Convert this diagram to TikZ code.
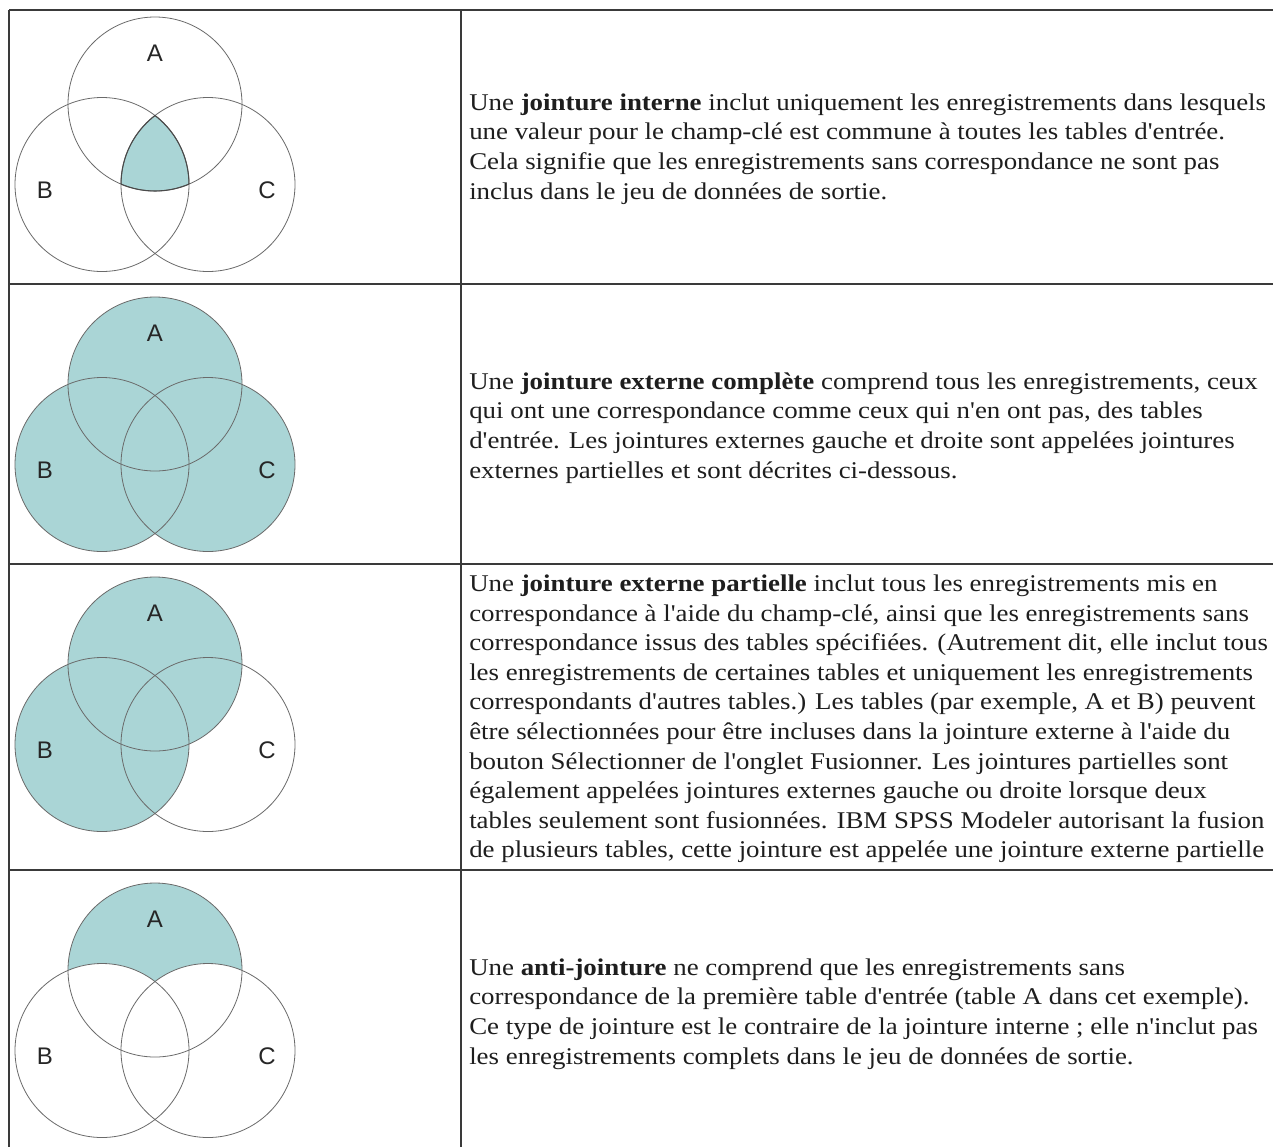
\documentclass[tikz,border=0pt]{standalone}
\usepackage{fontspec}
\usetikzlibrary{calc}
\setmainfont{Liberation Serif}[FakeStretch=1.12,Ligatures=TeXOff]
\newfontfamily\labelfont{Liberation Sans}
\definecolor{vennfill}{HTML}{AAD5D6}
\definecolor{rulecol}{HTML}{3A3A3A}
\definecolor{ringcol}{HTML}{6A6A6A}
\definecolor{edgecol}{HTML}{4A4A4A}
\definecolor{txtcol}{HTML}{1E1E1E}
\begin{document}
\begin{tikzpicture}[x=0.75pt,y=-0.75pt,
  tablerule/.style={draw=rulecol,line width=1.1pt},
  ring/.style={draw=ringcol,line width=0.6pt},
  edge/.style={draw=edgecol,line width=0.8pt},
  lab/.style={font=\labelfont\fontsize{18pt}{20pt}\selectfont,text=black!85,inner sep=0pt},
  para/.style={anchor=west,align=left,inner sep=0pt,text=txtcol,font=\fontsize{18pt}{22.2pt}\selectfont}]
\def\R{65.25pt}
\useasboundingbox (0,0) rectangle (1273,1146);
\clip (0,0) rectangle (1273,1146);
\fill[white] (0,0) rectangle (1273,1146);
% circle centres
\foreach \i/\y in {1/104,2/384,3/664,4/970}{
  \coordinate (A\i) at (155,\y);
  \coordinate (B\i) at (102,\y+80.5);
  \coordinate (C\i) at (208,\y+80.5);
}
% shading
\begin{scope}
  \clip (A1) circle[radius=\R];
  \clip (B1) circle[radius=\R];
  \fill[vennfill] (C1) circle[radius=\R];
\end{scope}
\fill[vennfill] (A2) circle[radius=\R] (B2) circle[radius=\R] (C2) circle[radius=\R];
\fill[vennfill] (A3) circle[radius=\R] (B3) circle[radius=\R];
\fill[vennfill] (A4) circle[radius=\R];
\fill[white] (B4) circle[radius=\R] (C4) circle[radius=\R];
% circles and labels
\foreach \i in {1,2,3,4}{
  \draw[ring] (A\i) circle[radius=\R];
  \draw[ring] (B\i) circle[radius=\R];
  \draw[ring] (C\i) circle[radius=\R];
  \node[lab] (la\i) at ($(A\i)+(0,-51)$) {A};
  \node[lab] (lb\i) at ($(B\i)+(-57,6)$) {B};
  \node[lab] (lc\i) at ($(C\i)+(59,6)$) {C};
}
% darker edge of the inner join region
\begin{scope}
  \clip (A1) circle[radius=\R];
  \clip (B1) circle[radius=\R];
  \draw[edge] (C1) circle[radius=\R];
\end{scope}
\begin{scope}
  \clip (A1) circle[radius=\R];
  \clip (C1) circle[radius=\R];
  \draw[edge] (B1) circle[radius=\R];
\end{scope}
\begin{scope}
  \clip (B1) circle[radius=\R];
  \clip (C1) circle[radius=\R];
  \draw[edge] (A1) circle[radius=\R];
\end{scope}
% table rules
\draw[tablerule] (9,10) -- (1280,10);
\draw[tablerule] (9,284) -- (1280,284);
\draw[tablerule] (9,564) -- (1280,564);
\draw[tablerule] (9,870) -- (1280,870);
\draw[tablerule] (9,10) -- (9,1160);
\draw[tablerule] (461,10) -- (461,1160);
% texts
\node[para] (t1) at (469,149) {Une \textbf{jointure interne} inclut uniquement les enregistrements dans lesquels\\
une valeur pour le champ-clé est commune à toutes les tables d'entrée.\\
Cela signifie que les enregistrements sans correspondance ne sont pas\\
inclus dans le jeu de données de sortie.};
\node[para] (t2) at (469,428) {Une \textbf{jointure externe complète} comprend tous les enregistrements, ceux\\
qui ont une correspondance comme ceux qui n'en ont pas, des tables\\
d'entrée. Les jointures externes gauche et droite sont appelées jointures\\
externes partielles et sont décrites ci-dessous.};
\node[para] (t3) at (469,719) {Une \textbf{jointure externe partielle} inclut tous les enregistrements mis en\\
correspondance à l'aide du champ-clé, ainsi que les enregistrements sans\\
correspondance issus des tables spécifiées. (Autrement dit, elle inclut tous\\
les enregistrements de certaines tables et uniquement les enregistrements\\
correspondants d'autres tables.) Les tables (par exemple, A et B) peuvent\\
être sélectionnées pour être incluses dans la jointure externe à l'aide du\\
bouton Sélectionner de l'onglet Fusionner. Les jointures partielles sont\\
également appelées jointures externes gauche ou droite lorsque deux\\
tables seulement sont fusionnées. IBM SPSS Modeler autorisant la fusion\\
de plusieurs tables, cette jointure est appelée une jointure externe partielle};
\node[para] (t4) at (469,1014) {Une \textbf{anti-jointure} ne comprend que les enregistrements sans\\
correspondance de la première table d'entrée (table A dans cet exemple).\\
Ce type de jointure est le contraire de la jointure interne ; elle n'inclut pas\\
les enregistrements complets dans le jeu de données de sortie.};
\end{tikzpicture}
\end{document}
